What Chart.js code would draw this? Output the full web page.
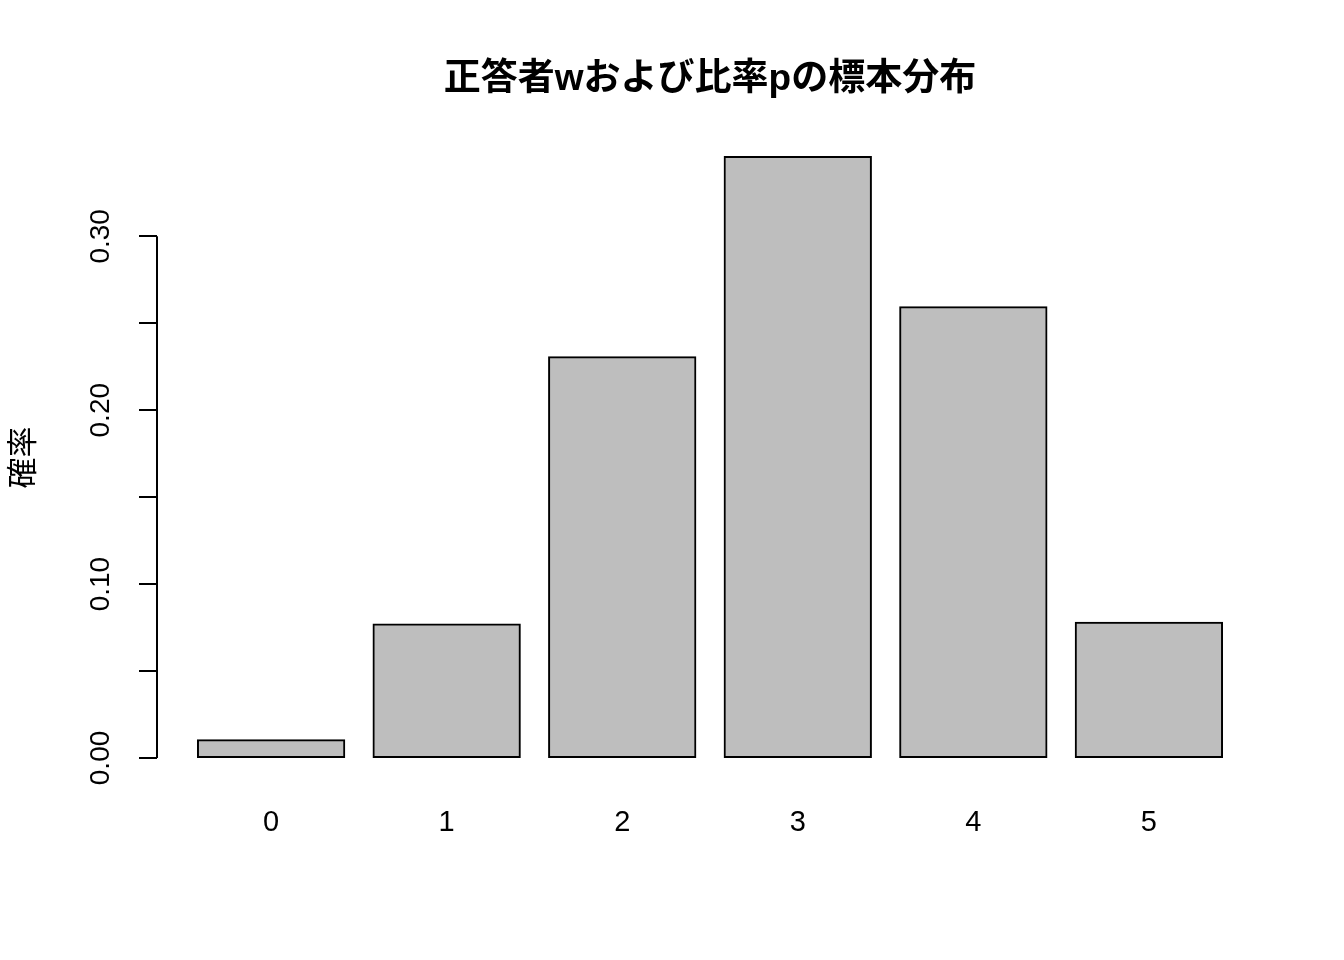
<!DOCTYPE html>
<html>
<head>
<meta charset="utf-8">
<script src="https://cdn.jsdelivr.net/npm/chart.js@4.4.0/dist/chart.umd.min.js"></script>
<style>
  html, body { margin: 0; padding: 0; background: #fff; }
  canvas { display: block; }
</style>
</head>
<body>
<canvas id="chart" width="1344" height="960"></canvas>
<script>
// 正答者数 w (n=5, p=0.6 の二項分布)
const categories = ["0", "1", "2", "3", "4", "5"]
const probs = [0.01024, 0.0768, 0.2304, 0.3456, 0.2592, 0.07776]
const yTicks = [0, 0.05, 0.10, 0.15, 0.20, 0.25, 0.30]
const yLabelTicks = [0, 0.10, 0.20, 0.30]
const titleText = "正答者wおよび比率pの標本分布"
const yTitle = "確率"

// R barplot 風: 幅1, 間隔0.2
const barCenters = categories.map((c, i) => 0.7 + 1.2 * i)
const xMin = 0.2 - 0.04 * 7, xMax = 7.2 + 0.04 * 7
const yMax = Math.max(...probs)

const latin = "'Liberation Sans', Arial, 'Noto Sans CJK JP', sans-serif"

const rAxisPlugin = {
  id: 'rAxis',
  afterDraw(chart) {
    const ctx = chart.ctx
    const y = chart.scales.y
    const area = chart.chartArea
    ctx.save()
    // 軸線 (0 から 0.30 まで)
    ctx.strokeStyle = '#000'
    ctx.lineWidth = 2
    ctx.beginPath()
    ctx.moveTo(area.left, y.getPixelForValue(yTicks[0]))
    ctx.lineTo(area.left, y.getPixelForValue(yTicks[yTicks.length - 1]))
    ctx.stroke()
    // 回転した目盛ラベル
    ctx.fillStyle = '#000'
    ctx.font = "28px " + latin
    ctx.textAlign = 'center'
    ctx.textBaseline = 'middle'
    yLabelTicks.forEach(v => {
      ctx.save()
      ctx.translate(area.left - 56, y.getPixelForValue(v))
      ctx.rotate(-Math.PI / 2)
      ctx.fillText(v.toFixed(2), 0, 0)
      ctx.restore()
    })
    // タイトル
    ctx.font = "bold 37px " + latin
    ctx.textBaseline = 'middle'
    ctx.fillText(titleText, (area.left + area.right) / 2, 80)
    ctx.restore()
  }
}

new Chart(document.getElementById('chart'), {
  type: 'bar',
  data: {
    datasets: [{
      data: probs.map((p, i) => ({ x: barCenters[i], y: p })),
      backgroundColor: '#BEBEBE',
      borderColor: '#000',
      borderWidth: 2,
      borderSkipped: false,
      inflateAmount: 1,
      barPercentage: 1 / 1.2,
      categoryPercentage: 1
    }]
  },
  options: {
    responsive: false,
    animation: false,
    devicePixelRatio: 1,
    layout: { padding: { top: 133, right: 81, left: 0, bottom: 0 } },
    plugins: {
      legend: { display: false },
      tooltip: { enabled: false },
      title: { display: false }
    },
    scales: {
      x: {
        type: 'linear',
        offset: false,
        min: xMin,
        max: xMax,
        afterBuildTicks: s => { s.ticks = barCenters.map(v => ({ value: v })) },
        afterFit: s => { s.height = 960 - 782 },
        grid: { display: false, drawTicks: false },
        border: { display: false },
        ticks: {
          autoSkip: false,
          maxRotation: 0,
          padding: 24,
          color: '#000',
          font: { family: latin, size: 29 },
          callback: (v, i) => categories[i]
        }
      },
      y: {
        min: -0.04 * yMax,
        max: 1.04 * yMax,
        afterBuildTicks: s => { s.ticks = yTicks.map(v => ({ value: v })) },
        afterFit: s => { s.width = 157 },
        grid: { drawOnChartArea: false, drawTicks: true, tickLength: 18, color: '#000', lineWidth: 2 },
        border: { display: false },
        ticks: { display: false },
        title: {
          display: true,
          text: yTitle,
          color: '#000',
          font: { family: "'Noto Sans CJK JP', sans-serif", size: 31 },
          padding: { top: 3, bottom: 0 }
        }
      }
    }
  },
  plugins: [rAxisPlugin]
})
</script>
</body>
</html>
